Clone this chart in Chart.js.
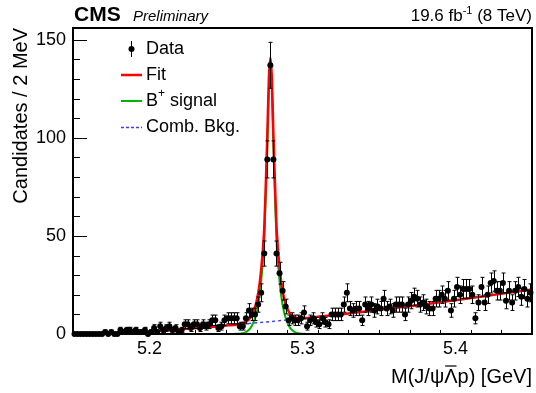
<!DOCTYPE html>
<html>
<head>
<meta charset="utf-8">
<script src="https://cdn.jsdelivr.net/npm/chart.js@4.4.1/dist/chart.umd.min.js"></script>
<style>
  html, body { margin: 0; padding: 0; background: #fff; }
  #massChart { display: block; }
</style>
</head>
<body>
<canvas id="massChart" width="536" height="393"></canvas>
<script>
// Binning: 2 MeV bins from 5.15 to 5.45 GeV
const binLow = 5.15;
const binWidth = 0.002;

// Candidates per bin
const counts = [
  0, 0, 0, 0, 0, 0, 0, 0, 0, 0,
  1, 0, 1, 0, 0, 2, 1, 2, 2, 1,
  2, 1, 1, 2, 0, 1, 3, 1, 4, 2,
  3, 4, 2, 3, 1, 2, 5, 5, 3, 5,
  5, 3, 5, 4, 5, 7, 7, 3, 4, 7,
  8, 8, 8, 8, 4, 4, 8, 12, 10, 10,
  15, 21, 41, 89, 137, 89, 41, 31, 22, 14,
  7, 8, 7, 7, 8, 11, 4, 7, 8, 6,
  5, 8, 6, 5, 10, 10, 10, 10, 15, 21,
  13, 12, 13, 13, 7, 15, 13, 15, 12, 14,
  13, 18, 13, 14, 12, 15, 15, 15, 10, 15,
  17, 19, 18, 15, 16, 14, 13, 13, 18, 18,
  20, 18, 22, 12, 18, 24, 20, 23, 23, 23,
  20, 8, 16, 24, 16, 20, 26, 27, 22, 22,
  26, 17, 22, 16, 22, 24, 19, 23, 18, 21
];

// Total fit curve
const fitMass = [5.151, 5.16, 5.17, 5.18, 5.19, 5.20, 5.21, 5.22, 5.23, 5.24, 5.25, 5.255, 5.26, 5.263,
  5.266, 5.268, 5.27, 5.272, 5.274, 5.275, 5.276, 5.277, 5.278, 5.279, 5.28, 5.281, 5.282, 5.283,
  5.284, 5.286, 5.288, 5.29, 5.292, 5.295, 5.298, 5.303, 5.31, 5.32, 5.33, 5.34, 5.35, 5.36, 5.37,
  5.38, 5.39, 5.40, 5.41, 5.42, 5.43, 5.44, 5.45];
const fitValues = [0, 0.1, 0.3, 0.6, 0.9, 1.3, 1.8, 2.4, 3.0, 3.6, 4.3, 4.6, 5.3, 6.2,
  8.4, 11.5, 16.7, 25.8, 42, 54, 76, 101, 130, 141, 130, 101, 77, 55,
  43, 27, 18, 13, 10.3, 8.6, 8.1, 8.2, 8.8, 9.6, 10.5, 11.4, 12.3, 13.2, 14.2,
  15.2, 16.2, 17.2, 18.3, 19.4, 20.5, 21.6, 22.7];

// B+ signal component
const sigMass = [5.255, 5.26, 5.263, 5.266, 5.268, 5.27, 5.272, 5.274, 5.275, 5.276, 5.277, 5.278,
  5.279, 5.28, 5.281, 5.282, 5.283, 5.284, 5.286, 5.288, 5.29, 5.292, 5.295, 5.298, 5.303];
const sigValues = [0, 0.3, 1, 3, 6, 11, 20, 36, 48, 70, 95, 124,
  135, 124, 95, 70, 48, 36, 20, 11, 6, 3, 1, 0.3, 0];

// Combinatorial background component
const bkgMass = [5.151, 5.16, 5.17, 5.18, 5.19, 5.20, 5.21, 5.22, 5.23, 5.24, 5.25, 5.26, 5.27,
  5.28, 5.29, 5.30, 5.31, 5.32, 5.33, 5.34, 5.35, 5.36, 5.37, 5.38, 5.39, 5.40, 5.41, 5.42, 5.43, 5.44, 5.45];
const bkgValues = [0, 0.1, 0.3, 0.6, 0.9, 1.3, 1.8, 2.4, 3.0, 3.6, 4.3, 5.0, 5.7,
  6.4, 7.2, 8.0, 8.8, 9.6, 10.5, 11.4, 12.3, 13.2, 14.2, 15.2, 16.2, 17.2, 18.3, 19.4, 20.5, 21.6, 22.7];

const xTickLabels = [5.2, 5.3, 5.4];
const yTickLabels = [0, 50, 100, 150];

const FONT = '"Liberation Sans", Arial, Helvetica, sans-serif';
const RED = '#ff0000';
const GREEN = '#00b400';
const BLUE = '#3c3cff';

const toPoints = (xs, ys) => xs.map((x, i) => ({ x: x, y: ys[i] }));
const dataPoints = counts.map((n, i) => ({ x: binLow + binWidth * (i + 0.5), y: n }));

// Poisson error bars on the data points
const errorBars = {
    id: 'errorBars',
    afterDatasetsDraw(chart) {
        const ctx = chart.ctx;
        const yScale = chart.scales.y;
        const meta = chart.getDatasetMeta(0);
        ctx.save();
        ctx.strokeStyle = '#000';
        ctx.lineWidth = 1;
        meta.data.forEach((pt, i) => {
            const n = counts[i];
            if (n <= 0) return;
            const e = Math.sqrt(n);
            const top = yScale.getPixelForValue(n + e);
            const bot = yScale.getPixelForValue(Math.max(n - e, 0));
            const x = Math.round(pt.x) + 0.5;
            ctx.beginPath();
            ctx.moveTo(x, top);
            ctx.lineTo(x, bot);
            ctx.moveTo(x - 2, top);
            ctx.lineTo(x + 2, top);
            ctx.moveTo(x - 2, bot);
            ctx.lineTo(x + 2, bot);
            ctx.stroke();
        });
        ctx.restore();
    }
};

// Frame, inward ticks, titles, legend
const decorations = {
    id: 'decorations',
    afterDraw(chart) {
        const ctx = chart.ctx;
        const a = chart.chartArea;
        const xs = chart.scales.x;
        const ys = chart.scales.y;
        ctx.save();
        ctx.strokeStyle = '#000';
        ctx.fillStyle = '#000';

        // ticks
        ctx.lineWidth = 1;
        ctx.beginPath();
        for (let v = 0; v <= 156; v += 10) {
            const y = Math.round(ys.getPixelForValue(v)) + 0.5;
            const len = v % 50 === 0 ? 14 : 7;
            ctx.moveTo(a.left, y);
            ctx.lineTo(a.left + len, y);
        }
        for (let k = 0; k <= 15; k++) {
            const v = 5.15 + 0.02 * k;
            const x = Math.round(xs.getPixelForValue(v)) + 0.5;
            const major = xTickLabels.some(t => Math.abs(t - v) < 1e-6);
            ctx.moveTo(x, a.bottom);
            ctx.lineTo(x, a.bottom - (major ? 8 : 4));
        }
        ctx.stroke();

        // frame
        ctx.lineWidth = 2;
        ctx.strokeRect(a.left, a.top, a.right - a.left, a.bottom - a.top);

        // header
        ctx.textBaseline = 'alphabetic';
        ctx.textAlign = 'left';
        ctx.font = 'bold 21px ' + FONT;
        ctx.fillText('CMS', 74, 21);
        ctx.font = 'italic 15px ' + FONT;
        ctx.fillText('Preliminary', 133, 21);

        ctx.font = '17px ' + FONT;
        const p1 = '19.6 fb', p3 = ' (8 TeV)';
        const supFont = '11px ' + FONT;
        const w1 = ctx.measureText(p1).width;
        const w3 = ctx.measureText(p3).width;
        ctx.font = supFont;
        const w2 = ctx.measureText('-1').width;
        let x0 = a.right - (w1 + w2 + w3);
        ctx.font = '17px ' + FONT;
        ctx.fillText(p1, x0, 21);
        ctx.font = supFont;
        ctx.fillText('-1', x0 + w1, 14);
        ctx.font = '17px ' + FONT;
        ctx.fillText(p3, x0 + w1 + w2, 21);

        // y title
        ctx.save();
        ctx.translate(27, a.top);
        ctx.rotate(-Math.PI / 2);
        ctx.textAlign = 'right';
        ctx.font = '20px ' + FONT;
        ctx.fillText('Candidates / 2 MeV', 0, 0);
        ctx.restore();

        // x title with overlined Lambda
        ctx.font = '20px ' + FONT;
        const t1 = 'M(J/\u03C8', t2 = '\u039B', t3 = 'p) [GeV]';
        const tw1 = ctx.measureText(t1).width;
        const tw2 = ctx.measureText(t2).width;
        const tw3 = ctx.measureText(t3).width;
        const tx = a.right - (tw1 + tw2 + tw3);
        const ty = 383;
        ctx.fillText(t1, tx, ty);
        ctx.fillText(t2, tx + tw1, ty);
        ctx.fillText(t3, tx + tw1 + tw2, ty);
        ctx.lineWidth = 1.2;
        ctx.beginPath();
        ctx.moveTo(tx + tw1 + 1, ty - 17);
        ctx.lineTo(tx + tw1 + tw2 - 1, ty - 17);
        ctx.stroke();

        // legend
        const lx = 131, rows = [49, 75, 101, 127], textX = 146;
        ctx.font = '18px ' + FONT;
        ctx.textBaseline = 'middle';
        ctx.textAlign = 'left';
        // Data
        ctx.lineWidth = 1;
        ctx.beginPath();
        ctx.moveTo(lx + 0.5, rows[0] - 8);
        ctx.lineTo(lx + 0.5, rows[0] + 8);
        ctx.stroke();
        ctx.beginPath();
        ctx.arc(lx + 0.5, rows[0], 3, 0, Math.PI * 2);
        ctx.fill();
        ctx.fillText('Data', textX, rows[0]);
        // Fit
        ctx.lineWidth = 2.5;
        ctx.strokeStyle = RED;
        ctx.beginPath();
        ctx.moveTo(121, rows[1]);
        ctx.lineTo(142, rows[1]);
        ctx.stroke();
        ctx.fillText('Fit', textX, rows[1]);
        // Signal
        ctx.lineWidth = 2;
        ctx.strokeStyle = GREEN;
        ctx.beginPath();
        ctx.moveTo(121, rows[2]);
        ctx.lineTo(142, rows[2]);
        ctx.stroke();
        ctx.fillText('B', textX, rows[2]);
        const bw = ctx.measureText('B').width;
        ctx.font = '12px ' + FONT;
        ctx.fillText('+', textX + bw, rows[2] - 7);
        const pw = ctx.measureText('+').width;
        ctx.font = '18px ' + FONT;
        ctx.fillText(' signal', textX + bw + pw, rows[2]);
        // Background
        ctx.lineWidth = 1.4;
        ctx.strokeStyle = BLUE;
        ctx.setLineDash([3, 2]);
        ctx.beginPath();
        ctx.moveTo(121, rows[3] + 0.5);
        ctx.lineTo(142, rows[3] + 0.5);
        ctx.stroke();
        ctx.setLineDash([]);
        ctx.fillText('Comb. Bkg.', textX, rows[3]);

        ctx.restore();
    }
};

const ctx = document.getElementById('massChart').getContext('2d');

const massChart = new Chart(ctx, {
    type: 'scatter',
    data: {
        datasets: [{
            label: 'Data',
            data: dataPoints,
            backgroundColor: '#000',
            borderColor: '#000',
            pointRadius: 3,
            pointBorderWidth: 0,
            showLine: false,
            clip: false
        }, {
            label: 'Fit',
            data: toPoints(fitMass, fitValues),
            borderColor: RED,
            borderWidth: 2.5,
            pointRadius: 0,
            showLine: true,
            cubicInterpolationMode: 'monotone'
        }, {
            label: 'B+ signal',
            data: toPoints(sigMass, sigValues),
            borderColor: GREEN,
            borderWidth: 2,
            pointRadius: 0,
            showLine: true,
            cubicInterpolationMode: 'monotone'
        }, {
            label: 'Comb. Bkg.',
            data: toPoints(bkgMass, bkgValues),
            borderColor: BLUE,
            borderWidth: 1.4,
            borderDash: [3, 3],
            pointRadius: 0,
            showLine: true,
            cubicInterpolationMode: 'monotone'
        }]
    },
    options: {
        responsive: false,
        animation: false,
        devicePixelRatio: 1,
        layout: {
            padding: { top: 28, right: 3, left: 0, bottom: 0 }
        },
        plugins: {
            legend: { display: false },
            tooltip: { enabled: false }
        },
        scales: {
            x: {
                type: 'linear',
                min: 5.15,
                max: 5.45,
                grid: { display: false, drawTicks: false },
                border: { display: false },
                ticks: {
                    color: '#000',
                    font: { family: FONT, size: 18 },
                    padding: 4,
                    maxRotation: 0,
                    callback: v => v.toFixed(1)
                },
                afterBuildTicks: axis => {
                    axis.ticks = xTickLabels.map(v => ({ value: v }));
                },
                afterFit: axis => {
                    axis.height = 59;
                }
            },
            y: {
                min: 0,
                max: 156,
                grid: { display: false, drawTicks: false },
                border: { display: false },
                ticks: {
                    color: '#000',
                    font: { family: FONT, size: 18 },
                    padding: 7
                },
                afterBuildTicks: axis => {
                    axis.ticks = yTickLabels.map(v => ({ value: v }));
                },
                afterFit: axis => {
                    axis.width = 73;
                }
            }
        }
    },
    plugins: [errorBars, decorations]
});
</script>
</body>
</html>
